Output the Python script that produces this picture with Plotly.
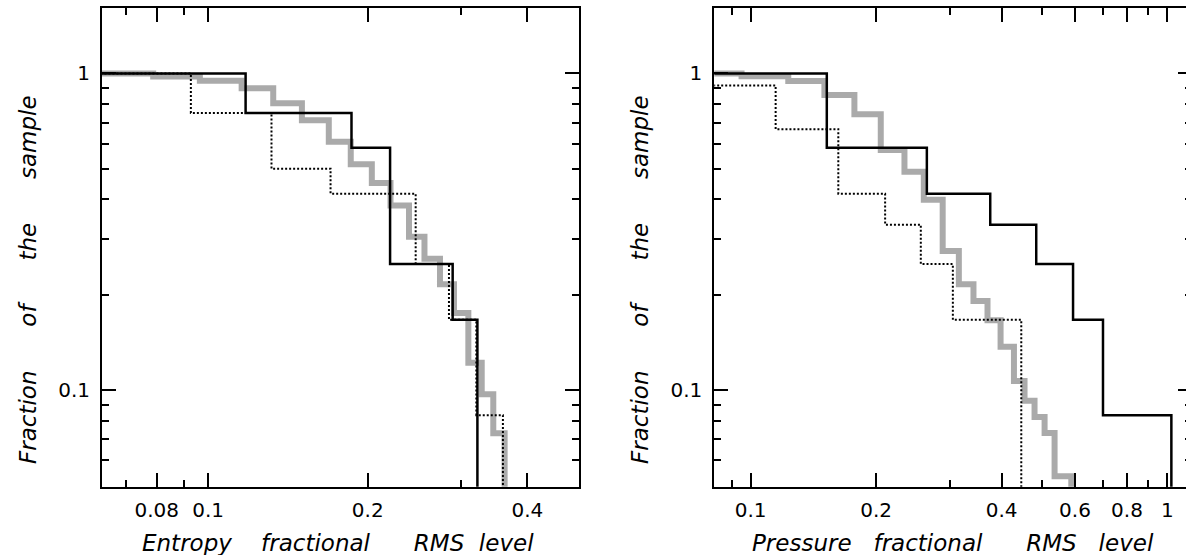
import math
import plotly.graph_objects as go

# ---------------- data ----------------
START_RMS = 0.05   # all cumulative curves start left of the axis ranges
FLOOR = 0.01       # stands for "fraction = 0" on the log axis (below range)

# axis ticks
ent_tick_vals = [0.08, 0.1, 0.2, 0.4]
ent_tick_text = ["0.08", "0.1", "0.2", "0.4"]
ent_minor_vals = [0.07, 0.09, 0.3, 0.5]
prs_tick_vals = [0.1, 0.2, 0.4, 0.6, 0.8, 1.0]
prs_tick_text = ["0.1", "0.2", "0.4", "0.6", "0.8", "1"]
prs_minor_vals = [0.09, 0.3, 0.5, 0.7, 0.9]
frac_tick_vals = [0.1, 1.0]
frac_tick_text = ["0.1", "1"]
frac_minor_vals = [0.06, 0.07, 0.08, 0.09, 0.2, 0.3, 0.4, 0.5, 0.6, 0.7, 0.8, 0.9]

# Entropy panel: RMS level where the fraction drops, and fraction after the drop
ent_gray_start = 1.0
ent_gray_rms = [0.0788, 0.0965, 0.1157, 0.1327, 0.1503, 0.1689, 0.1858, 0.2036,
                0.2208, 0.2393, 0.2559, 0.2737, 0.2909, 0.3096, 0.3281, 0.3450, 0.3624]
ent_gray_frac = [0.978, 0.949, 0.898, 0.805, 0.711, 0.609, 0.517, 0.451,
                 0.383, 0.305, 0.260, 0.216, 0.175, 0.122, 0.097, 0.073, 0.0]

ent_dot_start = 1.0
ent_dot_rms = [0.0928, 0.1317, 0.1702, 0.2463, 0.2846, 0.3205, 0.3597]
ent_dot_frac = [0.75, 0.5, 0.417, 0.25, 0.1667, 0.0833, 0.0]

ent_black_start = 1.0
ent_black_rms = [0.1177, 0.1864, 0.2204, 0.2892, 0.322]
ent_black_frac = [0.75, 0.583, 0.25, 0.1667, 0.0]

# Pressure panel
prs_gray_start = 1.0
prs_gray_rms = [0.0951, 0.1231, 0.1503, 0.1774, 0.2052, 0.2339, 0.2603, 0.2889, 0.3159,
                0.3425, 0.3701, 0.3978, 0.4283, 0.4541, 0.4799, 0.5073, 0.5361, 0.588]
prs_gray_frac = [0.98, 0.947, 0.855, 0.743, 0.573, 0.4895, 0.399, 0.275, 0.2158,
                 0.191, 0.166, 0.137, 0.1068, 0.0925, 0.0822, 0.0731, 0.0534, 0.0]

prs_dot_start = 0.917
prs_dot_rms = [0.1148, 0.1623, 0.2102, 0.256, 0.3056, 0.446]
prs_dot_frac = [0.667, 0.417, 0.333, 0.25, 0.1667, 0.0]

prs_black_start = 1.0
prs_black_rms = [0.1523, 0.2647, 0.3757, 0.4844, 0.5937, 0.7005, 1.022]
prs_black_frac = [0.583, 0.417, 0.333, 0.25, 0.1667, 0.0833, 0.0]

NB = "\u00a0"
x_title_ent = "Entropy" + NB * 4 + "fractional" + NB * 6 + "RMS" + NB * 2 + "level"
x_title_prs = "Pressure" + NB * 3 + "fractional" + NB * 6 + "RMS" + NB * 3 + "level"
y_title = "Fraction" + NB * 6 + "of" + NB * 6 + "the" + NB * 6 + "sample"

# ---------------- figure ----------------
W, H = 1193, 555
GRAY = "rgb(170,170,170)"


def step_trace(start, rms, frac, xa, ya, color, width, dash):
    xs = [START_RMS] + list(rms)
    ys = [start] + [f if f > 0 else FLOOR for f in frac]
    return go.Scatter(x=xs, y=ys, mode="lines", line_shape="hv",
                      line=dict(color=color, width=width, dash=dash),
                      xaxis=xa, yaxis=ya, showlegend=False, hoverinfo="skip")


fig = go.Figure()
for xa, ya, g, d, b in [
    ("x", "y", (ent_gray_start, ent_gray_rms, ent_gray_frac),
     (ent_dot_start, ent_dot_rms, ent_dot_frac),
     (ent_black_start, ent_black_rms, ent_black_frac)),
    ("x2", "y2", (prs_gray_start, prs_gray_rms, prs_gray_frac),
     (prs_dot_start, prs_dot_rms, prs_dot_frac),
     (prs_black_start, prs_black_rms, prs_black_frac)),
]:
    fig.add_trace(step_trace(*g, xa, ya, GRAY, 6, "solid"))
    fig.add_trace(step_trace(*d, xa, ya, "black", 2, "2px,2px"))
    fig.add_trace(step_trace(*b, xa, ya, "black", 2.5, "solid"))

TICKFONT = dict(family="DejaVu Sans", size=20, color="black")
TITLEFONT = dict(family="DejaVu Sans", size=23, color="black", style="italic")

ydom = [(H - 486.7) / H, (H - 8) / H]
yrange = [math.log10(0.0495), math.log10(1.61)]


def xaxis(dom, rng, tv, tt, mv, anchor):
    return dict(domain=dom, type="log", range=rng, tickmode="array", tickvals=tv,
                ticktext=tt, ticks="inside", ticklen=14, tickwidth=2, tickcolor="black",
                showline=True, linewidth=2, linecolor="black", mirror="ticks",
                showgrid=False, zeroline=False, tickfont=TICKFONT, anchor=anchor,
                ticklabelstandoff=4,
                minor=dict(tickmode="array", tickvals=mv, ticks="inside", ticklen=7,
                           tickwidth=2, tickcolor="black", showgrid=False))


def yaxis(anchor):
    return dict(domain=ydom, type="log", range=yrange, tickmode="array",
                tickvals=frac_tick_vals, ticktext=frac_tick_text, ticks="inside",
                ticklen=14, tickwidth=2, tickcolor="black", showline=True, linewidth=2,
                linecolor="black", mirror="ticks", showgrid=False, zeroline=False,
                tickfont=TICKFONT, anchor=anchor, ticklabelstandoff=6,
                minor=dict(tickmode="array", tickvals=frac_minor_vals, ticks="inside",
                           ticklen=7, tickwidth=2, tickcolor="black", showgrid=False))


fig.update_layout(
    width=W, height=H, margin=dict(l=0, r=0, t=0, b=0),
    paper_bgcolor="white", plot_bgcolor="white",
    xaxis=xaxis([102 / W, 579.3 / W], [-1.2, -0.3], ent_tick_vals, ent_tick_text,
                ent_minor_vals, "y"),
    yaxis=yaxis("x"),
    xaxis2=xaxis([714.3 / W, 1192.4 / W], [math.log10(0.0818), math.log10(1.148)],
                 prs_tick_vals, prs_tick_text, prs_minor_vals, "y2"),
    yaxis2=yaxis("x2"),
    annotations=[
        dict(text=x_title_ent, x=338 / W, y=1 - 543 / H, xref="paper", yref="paper",
             showarrow=False, xanchor="center", yanchor="middle", font=TITLEFONT),
        dict(text=x_title_prs, x=953 / W, y=1 - 543 / H, xref="paper", yref="paper",
             showarrow=False, xanchor="center", yanchor="middle", font=TITLEFONT),
        dict(text=y_title, x=28 / W, y=1 - 280 / H, xref="paper", yref="paper",
             showarrow=False, xanchor="center", yanchor="middle", textangle=-90,
             font=TITLEFONT),
        dict(text=y_title, x=640 / W, y=1 - 280 / H, xref="paper", yref="paper",
             showarrow=False, xanchor="center", yanchor="middle", textangle=-90,
             font=TITLEFONT),
    ],
)

fig.write_html("out.html", config={"displayModeBar": False},
               post_script="document.body.style.margin='0';"
                           "document.body.style.overflow='hidden';")
